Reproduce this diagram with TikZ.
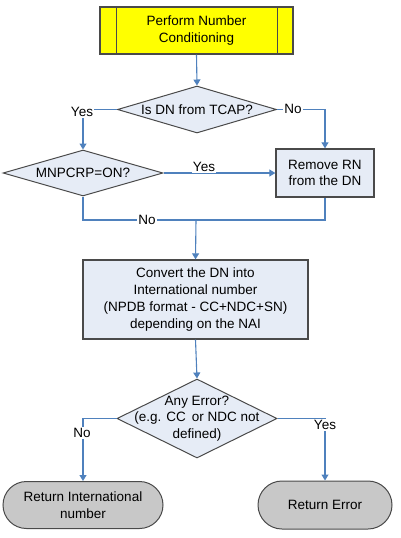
\documentclass[tikz,border=0pt]{standalone}
\usepackage{fontspec}
\setmainfont{Liberation Sans}
\usetikzlibrary{shapes.geometric,shapes.misc,arrows.meta}
\definecolor{lnblue}{HTML}{4F81BD}
\definecolor{boxfill}{HTML}{E6ECF6}
\definecolor{bord}{HTML}{4A4A4A}
\definecolor{termfill}{HTML}{C8C8C8}
\definecolor{yel}{HTML}{FFFF00}
\tikzset{
  every node/.style={font=\fontsize{13.5}{16.7}\selectfont, align=center, inner sep=0pt},
  procbox/.style={draw=bord, line width=1.3pt, fill=boxfill, rectangle},
  decis/.style={draw=bord, line width=1pt, fill=boxfill, diamond},
  term/.style={draw=bord, line width=1pt, fill=termfill, rounded rectangle},
  conn/.style={draw=lnblue, line width=1.1pt, -{Triangle[length=6pt,width=7pt]}},
  plain/.style={draw=lnblue, line width=1.1pt},
  lbl/.style={fill=white, inner sep=1pt, font=\fontsize{13.5}{15}\selectfont}
}
\begin{document}
\begin{tikzpicture}[x=1pt,y=-1pt]
\useasboundingbox (0,0) rectangle (400,538);
% start box
\node[draw=bord, line width=1.3pt, fill=yel, minimum width=193pt, minimum height=47pt] (start) at (196.5,30.5) {Perform Number\\Conditioning};
\draw[bord, line width=1pt] (116,7) -- (116,54) (277,7) -- (277,54);
% diamond 1
\node[decis, minimum width=159pt, minimum height=47pt] (d1) at (197,109.5) {};
\node at (d1.center) {Is DN from TCAP?};
% diamond 2
\node[decis, minimum width=160pt, minimum height=46pt] (d2) at (83,173) {};
\node at (d2.center) {MNPCRP=ON?};
% remove box
\node[procbox, minimum width=98pt, minimum height=48pt] (rm) at (325,173) {Remove RN\\from the DN};
% convert box
\node[procbox, minimum width=225pt, minimum height=79pt] (cv) at (195.5,299.5) {Convert the DN into\\International number\\(NPDB format - CC+NDC+SN)\\depending on the NAI};
% diamond 3
\node[decis, minimum width=160pt, minimum height=79pt] (d3) at (197,418.5) {};
\node at (d3.center) {Any Error?\\(e.g. CC\, or NDC not\\defined)};
% terminals
\node[term, minimum width=160pt, minimum height=47pt] (t1) at (83,505) {Return International\\number};
\node[term, minimum width=134pt, minimum height=48pt] (t2) at (325,505) {Return Error};
% coordinates
\coordinate (c1) at (83,109.5);
\coordinate (c2) at (325,109.5);
\coordinate (m1) at (83,220);
\coordinate (m2) at (325,220);
\coordinate (m3) at (196,220);
\coordinate (c3) at (83,418.5);
\coordinate (c4) at (325,418.5);
% connectors
\draw[conn] (start.south) -- (d1.north);
\draw[conn] (d1.west) -- (c1) -- (d2.north);
\draw[conn] (d1.east) -- (c2) -- (rm.north);
\draw[conn] (d2.east) -- (rm.west);
\draw[plain] (d2.south) -- (m1) -- (m2) -- (rm.south);
\draw[conn] (m3) -- (cv.north);
\draw[conn] (cv.south) -- (d3.north);
\draw[conn] (d3.west) -- (c3) -- (t1.north);
\draw[conn] (d3.east) -- (c4) -- (t2.north);
% labels
\node[lbl] (ly1) at (82,112) {Yes};
\node[lbl] (ln1) at (293,109) {No};
\node[lbl] (ly2) at (204,167) {Yes};
\node[lbl] (ln2) at (147,220) {No};
\node[lbl] (ln3) at (82,433) {No};
\node[lbl] (ly3) at (325,425) {Yes};
\end{tikzpicture}
\end{document}
